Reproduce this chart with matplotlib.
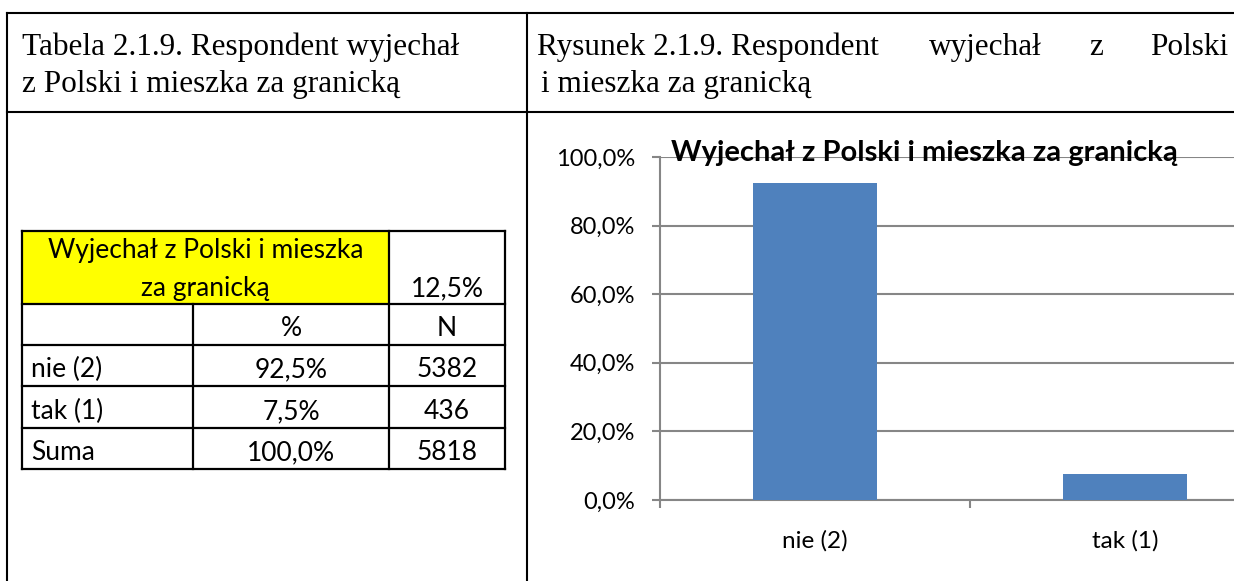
import matplotlib
matplotlib.use("Agg")
import matplotlib.pyplot as plt
from matplotlib.lines import Line2D
from matplotlib.patches import Rectangle
from matplotlib.ticker import FixedLocator, FuncFormatter

# ---------------- data ----------------
categories = ["nie (2)", "tak (1)"]
percent_values = [92.5, 7.5]
counts = [5382, 436]
total_label = "Suma"
total_percent = 100.0
total_count = 5818
header_share = "12,5%"
table_title_lines = ["Wyjechał z Polski i mieszka", "za granicką"]
chart_title = "Wyjechał z Polski i mieszka za granicką"
left_caption = ["Tabela 2.1.9. Respondent wyjechał", "z Polski i mieszka za granicką"]
right_caption_words = ["Rysunek 2.1.9. Respondent", "wyjechał", "z", "Polski"]
right_caption_line2 = "i mieszka za granicką"
y_ticks = [0, 20, 40, 60, 80, 100]


def pl_pct(v):
    return f"{v:.1f}".replace(".", ",") + "%"


W, H = 1234, 581
fig = plt.figure(figsize=(W / 100, H / 100), dpi=100)
fig.patch.set_facecolor("white")

# overlay in pixel coordinates (y downwards)
ov = fig.add_axes([0, 0, 1, 1])
ov.set_xlim(0, W)
ov.set_ylim(H, 0)
ov.axis("off")

SERIF = "Liberation Serif"
SANS = "Lato"
lw_frame = 1.5

# outer frame lines
ov.add_line(Line2D([7, W + 5], [13, 13], color="black", lw=lw_frame))
ov.add_line(Line2D([7, W + 5], [112, 112], color="black", lw=lw_frame))
ov.add_line(Line2D([7, 7], [13, H + 5], color="black", lw=lw_frame))
ov.add_line(Line2D([527, 527], [13, H + 5], color="black", lw=lw_frame))

# captions
cap_fs = 22.5
ov.text(22, 55, left_caption[0], family=SERIF, fontsize=cap_fs, va="baseline", ha="left")
ov.text(22, 92, left_caption[1], family=SERIF, fontsize=cap_fs, va="baseline", ha="left")

# justified first line of the right caption
word_x = [537, 929, 1089, 1228]
aligns = ["left", "left", "left", "right"]
for wd, xx, al in zip(right_caption_words, word_x, aligns):
    ov.text(xx, 55, wd, family=SERIF, fontsize=cap_fs, va="baseline", ha=al)
ov.text(541, 92, right_caption_line2, family=SERIF, fontsize=cap_fs, va="baseline", ha="left")

# ---------------- inner table ----------------
cols = [22, 193, 389, 505]
rows = [231, 304, 345, 386, 428, 469]
ov.add_patch(Rectangle((cols[0], rows[0]), cols[2] - cols[0], rows[1] - rows[0],
                       facecolor="#FFFF00", edgecolor="none", zorder=1))
tlw = 1.6
for y in rows:
    ov.add_line(Line2D([cols[0], cols[3]], [y, y], color="black", lw=tlw, zorder=3))
for x in [cols[0], cols[2], cols[3]]:
    ov.add_line(Line2D([x, x], [rows[0], rows[-1]], color="black", lw=tlw, zorder=3))
ov.add_line(Line2D([cols[1], cols[1]], [rows[1], rows[-1]], color="black", lw=tlw, zorder=3))

tfs = 19
hx = (cols[0] + cols[2]) / 2
ov.text(hx, 258, table_title_lines[0], family=SANS, fontsize=tfs, ha="center", va="baseline", zorder=4)
ov.text(hx, 296, table_title_lines[1], family=SANS, fontsize=tfs, ha="center", va="baseline", zorder=4)
ov.text((cols[2] + cols[3]) / 2, 296, header_share, family=SANS, fontsize=tfs, ha="center", va="baseline", zorder=4)

row_labels = ["", ] + categories + [total_label]
pct_col = ["%"] + [pl_pct(v) for v in percent_values] + [pl_pct(total_percent)]
n_col = ["N"] + [str(c) for c in counts] + [str(total_count)]
for i in range(4):
    yb = rows[i + 2] - 9
    ov.text(31, yb, row_labels[i], family=SANS, fontsize=tfs, ha="left", va="baseline", zorder=4)
    ov.text((cols[1] + cols[2]) / 2, yb, pct_col[i], family=SANS, fontsize=tfs, ha="center", va="baseline", zorder=4)
    ov.text((cols[2] + cols[3]) / 2, yb, n_col[i], family=SANS, fontsize=tfs, ha="center", va="baseline", zorder=4)

# ---------------- chart ----------------
ax_l, ax_r, ax_t, ax_b = 660, 1280, 157, 500
ax = fig.add_axes([ax_l / W, (H - ax_b) / H, (ax_r - ax_l) / W, (ax_b - ax_t) / H])
ax.set_facecolor("none")
grid_c = "#868686"
xpos = [i + 0.5 for i in range(len(categories))]
ax.bar(xpos, percent_values, width=0.4, color="#4F81BD", zorder=3)
ax.set_xlim(0, len(categories))
ax.set_ylim(0, 100)
ax.yaxis.set_major_locator(FixedLocator(y_ticks))
ax.yaxis.set_major_formatter(FuncFormatter(lambda v, p: pl_pct(v)))
ax.grid(axis="y", color=grid_c, lw=1.5, zorder=0)
ax.set_axisbelow(True)
for s in ["top", "right"]:
    ax.spines[s].set_visible(False)
for s in ["left", "bottom"]:
    ax.spines[s].set_color(grid_c)
    ax.spines[s].set_linewidth(1.5)

ax.xaxis.set_major_locator(FixedLocator(list(range(len(categories) + 1))))
ax.xaxis.set_major_formatter(FuncFormatter(lambda v, p: ""))
ax.xaxis.set_minor_locator(FixedLocator(xpos))
ax.set_xticklabels(categories, minor=True)
ax.tick_params(axis="x", which="major", length=6, width=1.5, color=grid_c, direction="out")
ax.tick_params(axis="x", which="minor", length=0, pad=22, labelsize=17.5)
ax.tick_params(axis="y", length=6, width=1.5, color=grid_c, pad=12, labelsize=17)
for lab in ax.get_xticklabels(minor=True) + ax.get_yticklabels():
    lab.set_family(SANS)

ov.set_zorder(0)
ax.set_zorder(1)
title_ax = fig.add_axes([0, 0, 1, 1], zorder=2)
title_ax.axis("off")
title_ax.set_xlim(0, W)
title_ax.set_ylim(H, 0)
title_ax.text(924, 161, chart_title, family=SANS, fontsize=21, fontweight="bold",
              ha="center", va="baseline")

fig.savefig("out.png", dpi=100)
